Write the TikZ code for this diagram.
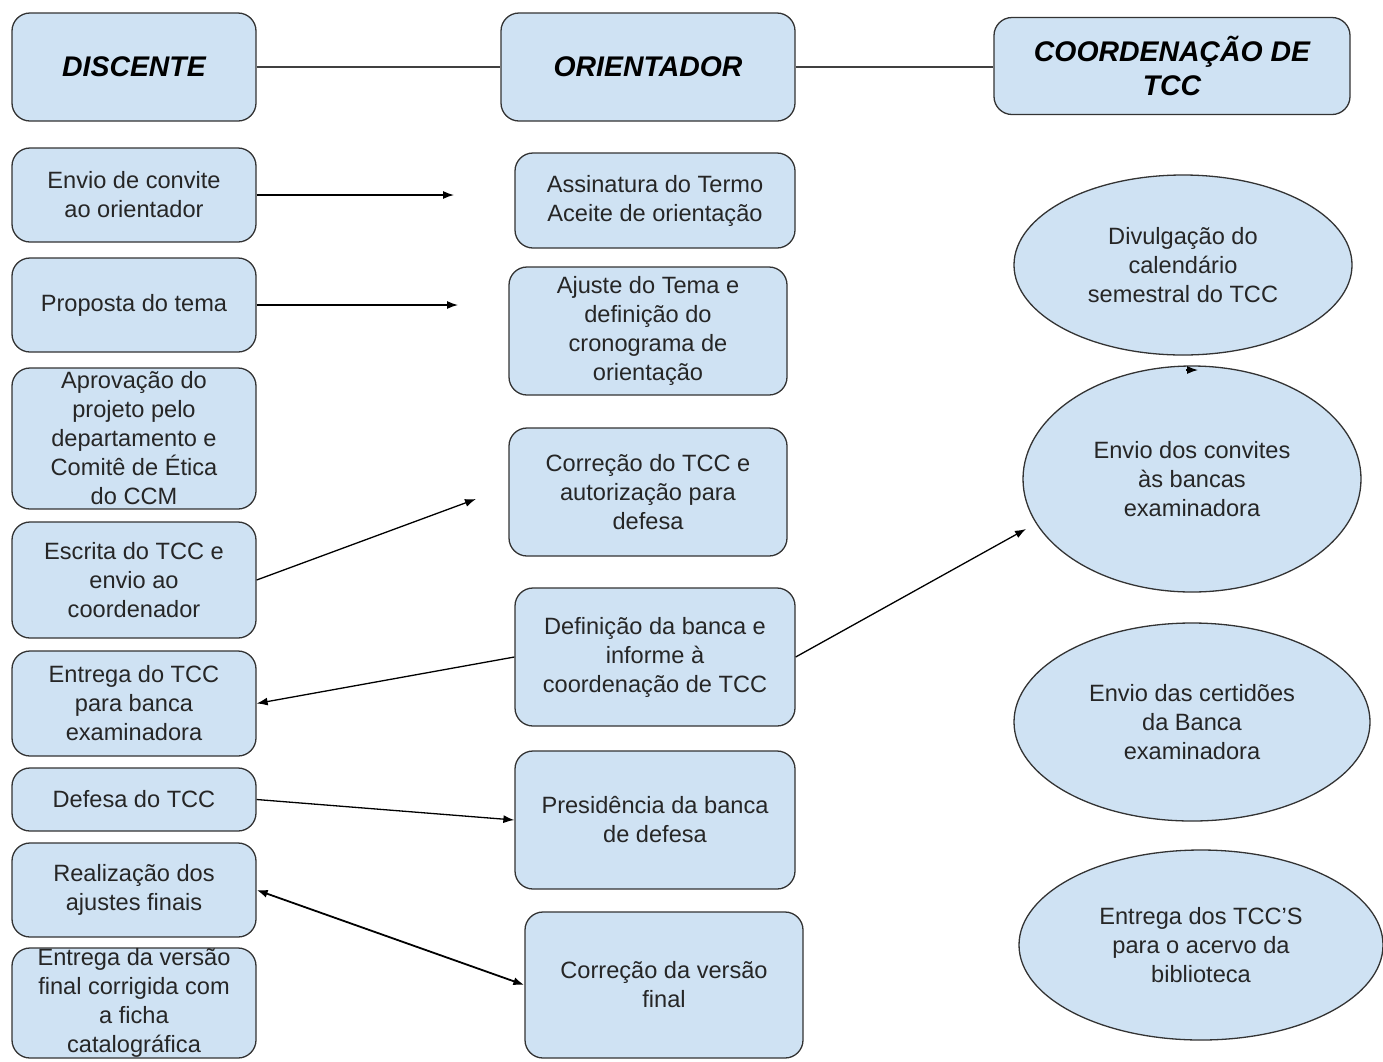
\documentclass[tikz,border=0pt]{standalone}
\usepackage{fontspec}
\setmainfont{Liberation Sans}
\usetikzlibrary{arrows.meta,shapes.geometric}
\definecolor{cellblue}{HTML}{CFE2F3}
\tikzset{
  box/.style={draw=black!80, fill=cellblue, line width=1.3pt, rounded corners=18pt,
    align=center, inner sep=0pt, text=black!85, font=\fontsize{23.6}{29}\selectfont},
  head/.style={box, text=black, font=\fontsize{28.4}{34}\selectfont\bfseries\itshape},
  bubble/.style={ellipse, draw=black!80, fill=cellblue, line width=1.3pt,
    align=center, inner sep=0pt, text=black!85, font=\fontsize{23.6}{29}\selectfont},
  link/.style={line width=1.3pt, draw=black!75},
  flow/.style={line width=1.3pt, -{Latex[length=11pt,width=8pt]}},
  flowboth/.style={line width=1.8pt, {Latex[length=11pt,width=8pt]}-{Latex[length=11pt,width=8pt]}}
}

\begin{document}
\begin{tikzpicture}[x=1pt, y=-1pt]
			%%%%% START %%%%%
			\useasboundingbox (0,0) rectangle (1383,1061);
			
			\node[head, minimum width=244, minimum height=108] (discente) at (134,67) {DISCENTE};
			\node[head, minimum width=294, minimum height=108] (orientador) at (648,67) {ORIENTADOR};
			\node[head, minimum width=356, minimum height=97] (coord) at (1172,66) {COORDENAÇÃO DE\\TCC};
			
			\draw[link] (discente.east) -- (orientador.west);
			\draw[link] (orientador.east) -- (orientador.east -| coord.west);
			
			%%%%% DISCENTE %%%%%
			\node[box, minimum width=244, minimum height=94] (convite) at (134,195) {Envio de convite\\ao orientador};
			\node[box, minimum width=244, minimum height=94] (proposta) at (134,305) {Proposta do tema};
			\node[box, minimum width=244, minimum height=141] (aprovacao) at (134,438.5) {Aprovação do\\projeto pelo\\departamento e\\Comitê de Ética\\do CCM};
			\node[box, minimum width=244, minimum height=116] (escrita) at (134,580) {Escrita do TCC e\\envio ao\\coordenador};
			\node[box, minimum width=244, minimum height=105] (entrega) at (134,703.5) {Entrega do TCC\\para banca\\examinadora};
			\node[box, minimum width=244, minimum height=63] (defesa) at (134,799.5) {Defesa do TCC};
			\node[box, minimum width=244, minimum height=94] (ajustes) at (134,890) {Realização dos\\ajustes finais};
			\node[box, minimum width=244, minimum height=110] (versao) at (134,1003) {Entrega da versão\\final corrigida com\\a ficha\\catalográfica};
			
			%%%%% ORIENTADOR %%%%%
			\node[box, minimum width=280, minimum height=95] (termo) at (655,200.5) {Assinatura do Termo\\Aceite de orientação};
			\node[box, minimum width=278, minimum height=128] (tema) at (648,331) {Ajuste do Tema e\\definição do\\cronograma de\\orientação};
			\node[box, minimum width=278, minimum height=128] (correcao) at (648,492) {Correção do TCC e\\autorização para\\defesa};
			\node[box, minimum width=280, minimum height=138] (banca) at (655,657) {Definição da banca e\\informe à\\coordenação de TCC};
			\node[box, minimum width=280, minimum height=138] (presidencia) at (655,820) {Presidência da banca\\de defesa};
			\node[box, minimum width=278, minimum height=146] (final) at (664,985) {Correção da versão\\final};
			
			%%%%% COORDENACAO %%%%%
			\node[bubble, minimum width=338, minimum height=180] (calendario) at (1183,265) {Divulgação do\\calendário\\semestral do TCC};
			\node[bubble, minimum width=338, minimum height=226] (convites) at (1192,479) {Envio dos convites\\às bancas\\examinadora};
			\node[bubble, minimum width=356, minimum height=198] (certidoes) at (1192,722) {Envio das certidões\\da Banca\\examinadora};
			\node[bubble, minimum width=364, minimum height=190] (acervo) at (1201,945) {Entrega dos TCC’S\\para o acervo da\\biblioteca};
			
			%%%%% ARROWS %%%%%
			\coordinate (termotip) at (454,195);
			\coordinate (tematip) at (458,305);
			\coordinate (correcaotip) at (476,499);
			\coordinate (convitestip) at (1026,529);
			\coordinate (nick) at (1186,370);
			\coordinate (nicktip) at (1198,370);
			
			\draw[flow] (convite.east) -- (termotip);
			\draw[flow] (proposta.east) -- (tematip);
			\draw[flow] (escrita.east) -- (correcaotip);
			\draw[flow] (banca.west) -- (entrega.east);
			\draw[flow] (banca.east) -- (convitestip);
			\draw[flow] (defesa.east) -- (presidencia.west);
			\draw[flowboth] (ajustes.east) -- (final.west);
			\draw[flow] (nick) -- (nicktip);
			
			%%%%% END %%%%%
\end{tikzpicture}
\end{document}
